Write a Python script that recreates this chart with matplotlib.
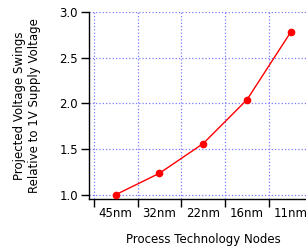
import matplotlib
matplotlib.use("Agg")
import matplotlib.pyplot as plt
import numpy as np

# Data
nodes   = ["45nm", "32nm", "22nm", "16nm", "11nm"]
swings  = [1.00, 1.235, 1.56, 2.04, 2.78]
y_ticks = [1.0, 1.5, 2.0, 2.5, 3.0]

LINE_COLOR = "#ff0000"
GRID_COLOR = "#7a7aff"

matplotlib.rc("font", family="DejaVu Sans", size=8.5)

fig = plt.figure(figsize=(3.06, 2.49), dpi=100)
ax = fig.add_axes([89/306, 50/249, 228/306, 187/249])

x = np.arange(len(nodes))
ax.plot(x, swings, color=LINE_COLOR, linewidth=1.0, marker="o", markersize=4.5,
        clip_on=False, zorder=3)

ax.set_xlim(-0.61, 4.6)
ax.set_ylim(0.953, 3.0)

# ticks on the boundaries between nodes, labels centred on the nodes
bounds = np.arange(len(nodes) + 1) - 0.5
ax.set_xticks(bounds)
ax.set_xticklabels([])
ax.set_xticks(x, minor=True)
ax.set_xticklabels(nodes, minor=True)
ax.tick_params(axis="x", which="major", direction="out", length=5.5, width=1)
ax.tick_params(axis="x", which="minor", length=0, pad=6)

ax.set_yticks(y_ticks)
ax.set_yticklabels(["%.1f" % v for v in y_ticks])
ax.tick_params(axis="y", direction="out", length=6, width=1, pad=2)

ax.grid(True, which="major", color=GRID_COLOR, linestyle=":", linewidth=0.9)

for side in ["top", "right"]:
    ax.spines[side].set_visible(False)
for side in ["left", "bottom"]:
    ax.spines[side].set_linewidth(1)

ax.set_xlabel("Process Technology Nodes", fontsize=8.5, labelpad=9)
ax.set_ylabel("Projected Voltage Swings\nRelative to 1V Supply Voltage", fontsize=8.5,
              labelpad=13, linespacing=1.25)

fig.savefig("out.png", dpi=100)
